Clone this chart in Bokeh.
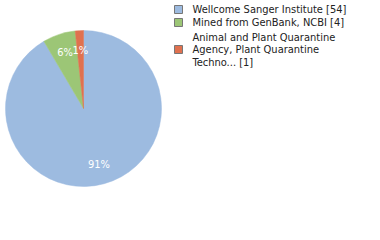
import numpy as np
from bokeh.plotting import figure
from bokeh.models import Range1d, ColumnDataSource
from bokeh.core.properties import value
from bokeh.embed import file_html
from bokeh.resources import INLINE

categories = ["Wellcome Sanger Institute", "Mined from GenBank, NCBI",
              "Animal and Plant Quarantine Agency, Plant Quarantine Techno..."]
counts = [54, 4, 1]
pct_labels = ["91%", "6%", "1%"]
legend_lines = [["Wellcome Sanger Institute [54]"],
                ["Mined from GenBank, NCBI [4]"],
                ["Animal and Plant Quarantine", "Agency, Plant Quarantine", "Techno... [1]"]]
colors = ["#9dbbe0", "#9cc676", "#e0714f"]

W, H = 380, 240
p = figure(width=W, height=H, x_range=Range1d(0, W), y_range=Range1d(0, H),
           output_backend="svg", toolbar_location=None, min_border=0)
p.axis.visible = False
p.grid.visible = False
p.outline_line_color = None
p.background_fill_color = "white"

cx, cy, r = 83, H - 108, 78
vals = np.array(counts, dtype=float)
frac = vals / vals.sum()
# clockwise from 12 o'clock
ends = np.pi / 2 - 2 * np.pi * np.concatenate([[0], np.cumsum(frac)[:-1]])
starts = ends - 2 * np.pi * frac
src = ColumnDataSource(dict(start=starts, end=ends, color=colors))
p.wedge(x=cx, y=cy, radius=r, start_angle="start", end_angle="end",
        fill_color="color", line_color="color", line_width=0.5, source=src)

mid = (starts + ends) / 2
lx = cx + 0.75 * r * np.cos(mid)
ly = cy + 0.75 * r * np.sin(mid)
p.text(x=lx, y=ly, text=pct_labels, text_color="white", text_font=value("DejaVu Sans Condensed"),
       text_font_size="11px", text_align="center", text_baseline="middle")

# legend
sq_x, txt_x = 178, 192
row_y = [9, 22, 49]
line_h = 12.5
for i, lines in enumerate(legend_lines):
    top = row_y[i] - (len(lines) - 1) * line_h / 2
    p.rect(x=sq_x, y=H - row_y[i], width=8, height=8, fill_color=colors[i],
           line_color="#777777", line_width=1)
    ys = [H - (top + k * line_h) for k in range(len(lines))]
    p.text(x=[txt_x] * len(lines), y=ys, text=lines, text_color="#222222",
           text_font=value("DejaVu Sans Condensed"), text_font_size="11px",
           text_align="left", text_baseline="middle")

open("out.html", "w").write(file_html(p, INLINE))
